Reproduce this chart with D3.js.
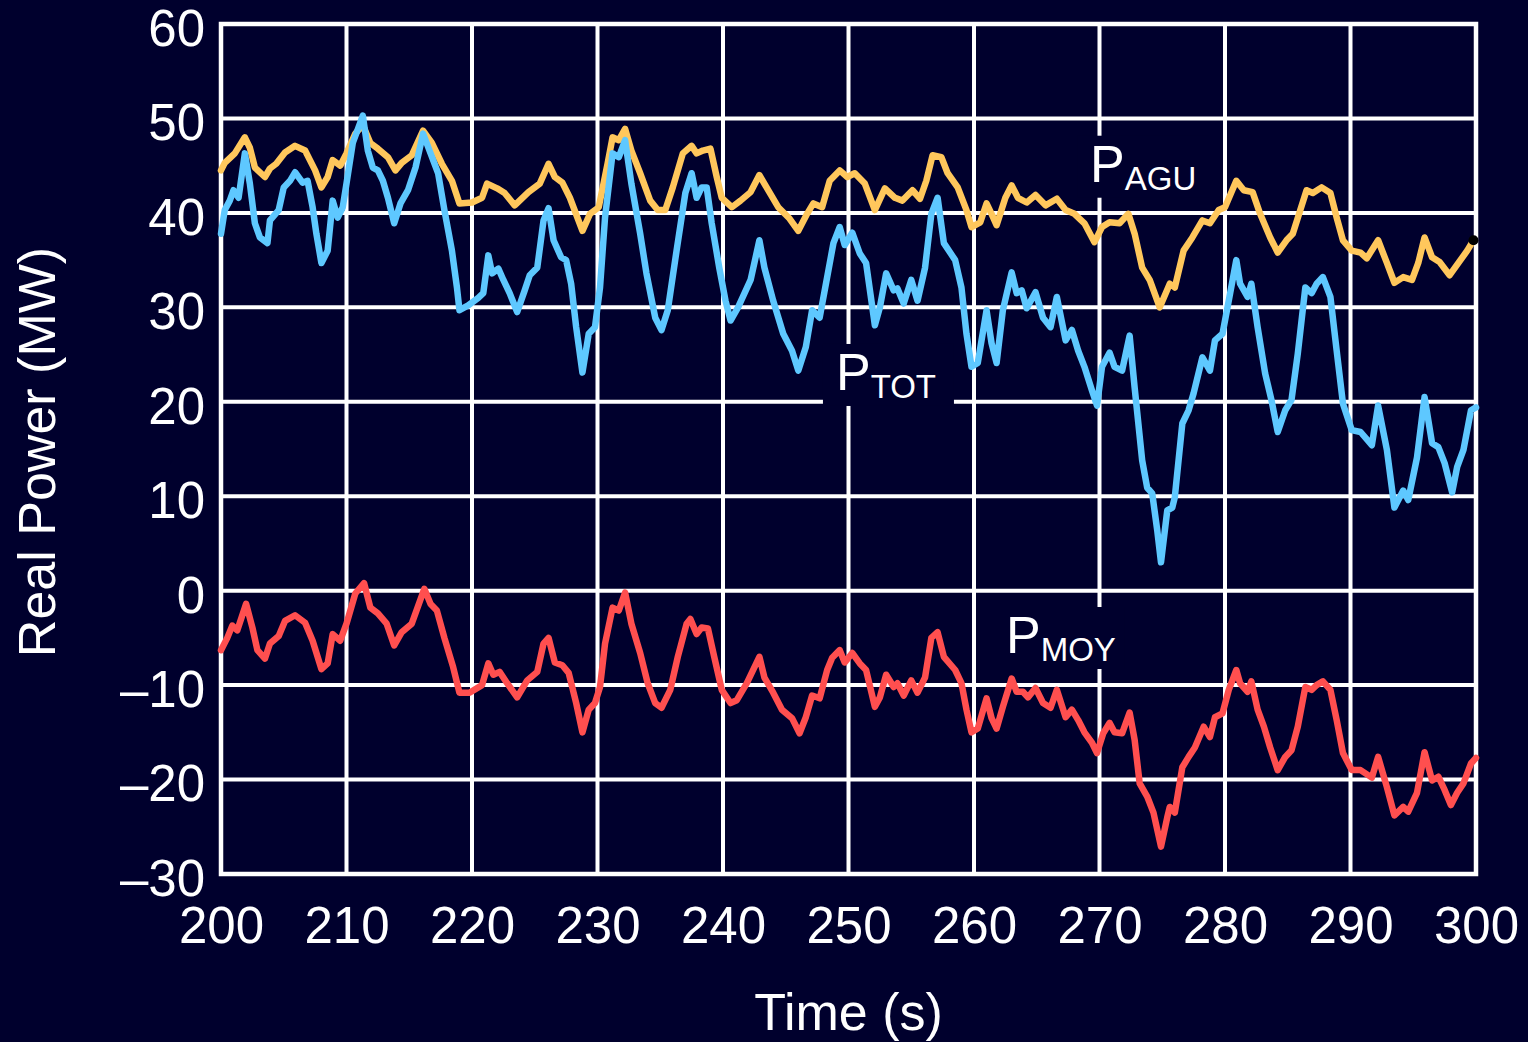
<!DOCTYPE html>
<html>
<head>
<meta charset="utf-8">
<script src="https://cdn.jsdelivr.net/npm/d3@7"></script>
<style>
  html, body { margin: 0; padding: 0; background: #00002d; }
  svg { display: block; font-family: "Liberation Sans", Arial, sans-serif; }
</style>
</head>
<body>
<div id="chart"></div>
<script>
'use strict';

var xTicks = [200, 210, 220, 230, 240, 250, 260, 270, 280, 290, 300];
var yTicks = [-30, -20, -10, 0, 10, 20, 30, 40, 50, 60];

// [time (s), MW]
var pAGU = [
  [200,44.5],[200.3,45.3],[201.1,46.3],[201.9,48.0],[202.3,46.9],[202.7,44.8],[203.5,43.8],[203.9,44.7],
  [204.4,45.2],[205.1,46.4],[205.9,47.1],[206.7,46.6],[207.5,44.5],[208.0,42.7],[208.5,43.8],[208.9,45.6],
  [209.5,45.0],[210.0,46.3],[210.7,48.4],[211.3,49.3],[211.9,47.4],[212.5,46.8],[213.3,45.9],[213.9,44.5],
  [214.4,45.3],[215.2,46.1],[216.1,48.7],[216.8,47.4],[217.6,45.2],[218.4,43.4],[219.0,41.0],[220.0,41.1],
  [220.8,41.6],[221.2,43.1],[222.0,42.6],[222.6,42.1],[223.4,40.8],[224.5,42.2],[225.4,43.1],[226.1,45.2],
  [226.6,43.8],[227.2,43.2],[227.8,41.6],[228.8,38.1],[229.4,39.9],[230.1,40.6],[230.8,45.2],[231.2,48.0],
  [231.7,47.7],[232.2,48.9],[232.7,46.6],[233.4,44.2],[234.2,41.3],[234.8,40.3],[235.4,40.3],[236.0,42.7],
  [236.8,46.3],[237.5,47.1],[237.9,46.3],[238.4,46.6],[239.0,46.8],[239.5,43.8],[239.9,41.6],[240.7,40.6],
  [241.4,41.3],[242.2,42.2],[242.9,44.0],[243.6,42.4],[244.4,40.6],[245.3,39.4],[246.0,38.1],[246.7,39.9],
  [247.2,41.0],[247.9,40.6],[248.5,43.4],[249.3,44.5],[249.9,43.8],[250.5,44.2],[251.3,43.1],[252.1,40.3],
  [252.9,42.6],[253.7,41.6],[254.3,41.3],[255.1,42.4],[255.7,41.5],[256.2,43.4],[256.7,46.1],[257.4,45.9],
  [257.9,44.2],[258.7,42.7],[259.4,40.3],[259.8,38.5],[260.5,39.0],[261.0,41.0],[261.4,39.9],[261.8,38.7],
  [262.5,41.6],[263.0,42.9],[263.5,41.6],[264.2,41.1],[264.9,41.9],[265.7,40.8],[266.6,41.5],[267.3,40.3],
  [268.0,39.9],[268.8,38.9],[269.6,36.9],[270.2,38.5],[270.8,39.0],[271.6,38.9],[272.3,39.9],[272.8,37.8],
  [273.4,34.2],[274.0,32.9],[274.8,30.0],[275.6,32.5],[276.0,32.1],[276.7,36.0],[277.4,37.4],[278.2,39.2],
  [278.8,38.9],[279.5,40.3],[280.0,40.6],[280.9,43.4],[281.5,42.4],[282.2,42.2],[282.8,39.9],[283.6,37.4],
  [284.2,35.8],[284.9,37.1],[285.4,37.8],[286.0,40.3],[286.5,42.4],[287.0,42.1],[287.7,42.7],[288.4,42.1],
  [288.9,39.5],[289.4,37.1],[290.1,36.0],[290.8,35.8],[291.3,35.2],[292.2,37.1],[292.9,34.7],[293.5,32.6],
  [294.2,33.2],[294.9,32.9],[295.4,34.7],[295.9,37.4],[296.5,35.3],[297.1,34.8],[297.9,33.4],[298.6,34.7],
  [299.3,36.0],[299.8,37.1]
];

var pTOT = [
  [200,37.8],[200.3,40.3],[200.7,41.3],[201.0,42.4],[201.4,41.6],[201.9,46.3],[202.3,43.1],[202.7,38.9],
  [203.1,37.4],[203.7,36.8],[203.9,39.2],[204.6,40.3],[205.0,42.7],[205.5,43.4],[205.9,44.3],[206.5,43.2],
  [206.9,43.4],[207.3,40.6],[207.6,37.8],[208.0,34.7],[208.5,36.0],[208.9,41.3],[209.3,39.5],[209.7,40.6],
  [210.0,43.1],[210.5,47.4],[211.3,50.3],[211.7,46.6],[212.1,44.8],[212.5,44.5],[212.9,43.4],[213.3,41.6],
  [213.8,38.9],[214.3,41.0],[214.9,42.4],[215.5,44.8],[216.1,48.4],[216.7,46.3],[217.3,44.2],[217.8,40.3],
  [218.4,36.0],[218.8,32.1],[219.0,29.7],[219.7,30.2],[220.5,31.0],[220.9,31.5],[221.3,35.5],[221.6,33.6],
  [222.1,34.1],[222.5,32.9],[223.0,31.5],[223.6,29.5],[224.2,31.8],[224.6,33.4],[225.2,34.2],[225.7,39.2],
  [226.1,40.5],[226.5,37.1],[227.1,35.3],[227.5,35.0],[227.9,32.5],[228.3,27.9],[228.8,23.1],[229.3,27.2],
  [229.8,27.9],[230.2,32.1],[230.6,39.5],[231.2,46.3],[231.7,45.9],[232.2,47.7],[232.7,43.1],[233.4,37.8],
  [233.9,33.6],[234.6,28.9],[235.1,27.6],[235.6,29.7],[236.3,36.0],[237.0,42.1],[237.5,44.2],[237.9,41.6],
  [238.3,42.7],[238.7,42.7],[239.1,38.9],[239.7,34.2],[240.2,30.7],[240.6,28.6],[241.2,30.0],[242.2,32.9],
  [242.9,37.1],[243.3,34.2],[244.0,30.7],[244.8,27.2],[245.5,25.4],[246.0,23.3],[246.6,25.8],[247.1,29.7],
  [247.7,28.9],[248.3,33.2],[248.8,36.8],[249.3,38.5],[249.7,36.6],[250.3,37.9],[250.9,35.7],[251.4,34.7],
  [252.1,28.1],[252.5,30.0],[253.0,33.6],[253.6,31.8],[253.9,32.0],[254.4,30.4],[255.0,32.9],[255.5,30.7],
  [256.1,34.2],[256.6,39.9],[257.1,41.6],[257.6,36.8],[258.5,35.0],[259.0,32.1],[259.4,27.2],[259.8,23.7],
  [260.3,24.1],[261.0,29.7],[261.4,26.2],[261.8,24.1],[262.3,29.7],[263.0,33.7],[263.4,31.5],[263.8,31.8],
  [264.2,29.9],[264.9,31.6],[265.5,28.9],[266.1,27.9],[266.6,31.1],[267.3,26.5],[267.8,27.6],[268.3,25.4],
  [268.8,23.7],[269.4,21.2],[269.8,19.6],[270.2,23.7],[270.8,25.2],[271.2,23.7],[271.8,23.3],[272.4,27.0],
  [272.8,21.5],[273.4,13.8],[273.8,10.9],[274.2,10.3],[274.6,6.4],[274.9,3.0],[275.4,8.5],[275.8,8.8],
  [276.0,9.9],[276.6,17.7],[277.1,19.1],[277.5,20.9],[278.2,24.7],[278.8,23.3],[279.2,26.5],[279.8,27.2],
  [280.3,30.7],[280.9,35.0],[281.2,32.5],[281.8,31.1],[282.1,32.5],[282.6,27.9],[283.2,23.0],[283.7,20.2],
  [284.2,16.8],[284.8,19.1],[285.3,20.2],[285.8,25.1],[286.4,32.1],[286.9,31.5],[287.3,32.5],[287.8,33.2],
  [288.4,31.1],[288.9,25.4],[289.4,19.8],[290.1,17.0],[290.8,16.8],[291.7,15.4],[292.2,19.6],[292.9,14.9],
  [293.5,8.8],[294.2,10.6],[294.6,9.6],[295.3,14.1],[295.9,20.5],[296.5,15.6],[297.0,15.2],[297.5,13.5],
  [298.1,10.4],[298.5,13.1],[299.0,14.9],[299.6,19.1],[300,19.4]
];

var pMOY = [
  [200,-6.3],[200.5,-5.0],[200.9,-3.7],[201.3,-4.2],[202.0,-1.4],[202.5,-3.9],[202.9,-6.3],[203.5,-7.2],
  [203.9,-5.6],[204.6,-4.8],[205.1,-3.2],[205.9,-2.6],[206.7,-3.4],[207.3,-5.3],[208.0,-8.3],[208.5,-7.7],
  [208.9,-4.6],[209.5,-5.3],[210.0,-3.5],[210.7,-0.3],[211.4,0.8],[211.9,-1.8],[212.5,-2.4],[213.2,-3.5],
  [213.8,-5.8],[214.4,-4.4],[215.2,-3.5],[216.2,0.2],[216.7,-1.4],[217.2,-2.1],[217.8,-5.0],[218.5,-8.1],
  [219.0,-10.8],[219.8,-10.8],[220.8,-10.0],[221.3,-7.7],[221.7,-8.9],[222.2,-8.6],[222.8,-9.8],[223.6,-11.3],
  [224.4,-9.5],[225.2,-8.6],[225.7,-5.6],[226.1,-5.0],[226.6,-7.6],[227.2,-7.9],[227.7,-8.7],[228.3,-11.9],
  [228.8,-15.0],[229.3,-12.6],[229.8,-11.9],[230.2,-10.2],[230.6,-5.6],[231.2,-1.8],[231.7,-2.1],[232.2,-0.2],
  [232.7,-3.5],[233.4,-6.6],[234.0,-9.8],[234.6,-11.9],[235.1,-12.4],[235.8,-10.5],[236.4,-7.0],[237.1,-3.5],
  [237.4,-3.0],[237.9,-4.6],[238.3,-3.9],[238.8,-4.0],[239.3,-7.0],[239.9,-10.5],[240.6,-11.9],[241.1,-11.6],
  [241.9,-9.8],[242.9,-7.0],[243.3,-9.2],[244.0,-10.8],[244.7,-12.6],[245.5,-13.5],[246.1,-15.1],[246.6,-13.4],
  [247.1,-11.1],[247.7,-11.4],[248.3,-8.4],[248.7,-7.1],[249.3,-6.3],[249.7,-7.6],[250.3,-6.6],[250.9,-7.7],
  [251.4,-8.4],[252.1,-12.3],[252.5,-11.3],[253.0,-8.9],[253.6,-10.2],[253.9,-9.8],[254.4,-11.1],[255.0,-9.5],
  [255.5,-10.8],[256.1,-9.2],[256.6,-5.0],[257.1,-4.4],[257.6,-7.0],[258.5,-8.4],[259.0,-9.8],[259.4,-12.6],
  [259.8,-15.0],[260.3,-14.6],[261.0,-11.4],[261.4,-13.5],[261.8,-14.6],[262.3,-12.3],[263.0,-9.3],[263.4,-10.7],
  [263.9,-10.7],[264.3,-11.3],[264.9,-10.3],[265.5,-11.9],[266.1,-12.4],[266.6,-10.5],[267.3,-13.4],[267.8,-12.6],
  [268.3,-13.7],[268.8,-15.0],[269.4,-16.1],[269.8,-17.2],[270.3,-15.1],[270.8,-14.0],[271.2,-15.0],[271.8,-15.1],
  [272.4,-12.9],[272.8,-15.8],[273.2,-20.4],[273.8,-21.8],[274.3,-23.5],[274.9,-27.1],[275.4,-24.0],[275.6,-22.9],
  [276.0,-23.5],[276.6,-18.7],[277.1,-17.6],[277.6,-16.6],[278.3,-14.4],[278.8,-15.5],[279.2,-13.4],[279.8,-13.0],
  [280.3,-10.5],[280.9,-8.4],[281.2,-9.8],[281.8,-10.7],[282.1,-9.6],[282.6,-12.6],[283.1,-14.4],[283.6,-16.6],
  [284.2,-19.0],[284.8,-17.6],[285.3,-16.9],[285.8,-14.4],[286.4,-10.2],[286.9,-10.5],[287.3,-10.0],[287.8,-9.6],
  [288.4,-10.5],[288.9,-13.7],[289.4,-17.2],[290.1,-19.0],[290.8,-19.0],[291.7,-19.8],[292.2,-17.6],[292.9,-20.8],
  [293.5,-23.8],[294.2,-22.9],[294.6,-23.4],[295.3,-21.4],[295.9,-17.1],[296.5,-20.1],[297.0,-19.7],[297.5,-21.1],
  [298.0,-22.7],[298.5,-21.4],[299.0,-20.4],[299.6,-18.3],[300,-17.7]
];

// series labels, anchored in data units (left edge of "P", baseline)
var labelNames = ['AGU', 'TOT', 'MOY'];
var labelAt = [[269.25, 43.3], [249.0, 21.25], [262.55, -6.6]];

(function(){
  var W = 1528, H = 1042;
  var bg = '#00002d';
  var margin = {left: 221, right: 1476, top: 24, bottom: 874};

  var x = d3.scaleLinear().domain([200, 300]).range([margin.left, margin.right]);
  var y = d3.scaleLinear().domain([-30, 60]).range([margin.bottom, margin.top]);

  var svg = d3.select('#chart').append('svg')
    .attr('width', W)
    .attr('height', H);

  svg.append('rect').attr('width', W).attr('height', H).attr('fill', bg);

  // grid
  var grid = svg.append('g').attr('stroke', '#fff').attr('stroke-width', 4);
  grid.selectAll('line.v').data(xTicks).enter().append('line')
    .attr('class', 'v')
    .attr('x1', function(d){ return x(d); }).attr('x2', function(d){ return x(d); })
    .attr('y1', margin.top).attr('y2', margin.bottom);
  grid.selectAll('line.h').data(yTicks).enter().append('line')
    .attr('class', 'h')
    .attr('y1', function(d){ return y(d); }).attr('y2', function(d){ return y(d); })
    .attr('x1', margin.left).attr('x2', margin.right);
  svg.append('rect')
    .attr('x', margin.left).attr('y', margin.top)
    .attr('width', margin.right - margin.left).attr('height', margin.bottom - margin.top)
    .attr('fill', 'none').attr('stroke', '#fff').attr('stroke-width', 4.5);

  var labels = labelNames.map(function(n, i){ return { sub: n, t: labelAt[i][0], v: labelAt[i][1] }; });

  // label boxes knock out the grid
  svg.selectAll('rect.lbl').data(labels).enter().append('rect')
    .attr('class', 'lbl')
    .attr('x', function(d){ return x(d.t) - 13; })
    .attr('y', function(d){ return y(d.v) - 46; })
    .attr('width', 131)
    .attr('height', 62)
    .attr('fill', bg);

  var fmt = function(d){ return d < 0 ? '\u2013' + Math.abs(d) : String(d); };

  var yAxis = svg.append('g')
    .attr('transform', 'translate(' + margin.left + ',0)')
    .call(d3.axisLeft(y).tickValues(yTicks).tickSize(0).tickPadding(16).tickFormat(fmt));
  var xAxis = svg.append('g')
    .attr('transform', 'translate(0,' + margin.bottom + ')')
    .call(d3.axisBottom(x).tickValues(xTicks).tickSize(0).tickPadding(33).tickFormat(fmt));

  [yAxis, xAxis].forEach(function(a){
    a.select('.domain').remove();
    a.selectAll('text')
      .attr('fill', '#fff')
      .style('font-size', '51px')
      .style('font-family', '"Liberation Sans", Arial, sans-serif');
  });
  yAxis.selectAll('text').attr('dy', '0.42em');

  svg.append('text')
    .attr('x', (margin.left + margin.right) / 2).attr('y', 1030)
    .attr('text-anchor', 'middle').attr('fill', '#fff')
    .style('font-size', '52px')
    .text('Time (s)');

  svg.append('text')
    .attr('transform', 'translate(55,452) rotate(-90)')
    .attr('text-anchor', 'middle').attr('fill', '#fff')
    .style('font-size', '52px')
    .text('Real Power (MW)');

  // series
  var line = d3.line()
    .x(function(d){ return x(d[0]); })
    .y(function(d){ return y(d[1]); });

  var series = [
    { data: pAGU, color: '#ffc75c' },
    { data: pTOT, color: '#5ec8ff' },
    { data: pMOY, color: '#ff4f4f' }
  ];

  svg.selectAll('path.series').data(series).enter().append('path')
    .attr('class', 'series')
    .attr('d', function(d){ return line(d.data); })
    .attr('fill', 'none')
    .attr('stroke', function(d){ return d.color; })
    .attr('stroke-width', 6.5)
    .attr('stroke-linejoin', 'round')
    .attr('stroke-linecap', 'round');

  var last = pAGU[pAGU.length - 1];
  svg.append('circle')
    .attr('cx', x(last[0])).attr('cy', y(last[1]))
    .attr('r', 5).attr('fill', '#000');

  // series labels
  var lt = svg.selectAll('text.lbl').data(labels).enter().append('text')
    .attr('class', 'lbl')
    .attr('x', function(d){ return x(d.t); })
    .attr('y', function(d){ return y(d.v); })
    .attr('fill', '#fff')
    .style('font-size', '52px');
  lt.append('tspan').text('P');
  lt.append('tspan')
    .attr('dy', 8)
    .style('font-size', '33px')
    .text(function(d){ return d.sub; });
})();
</script>
</body>
</html>
